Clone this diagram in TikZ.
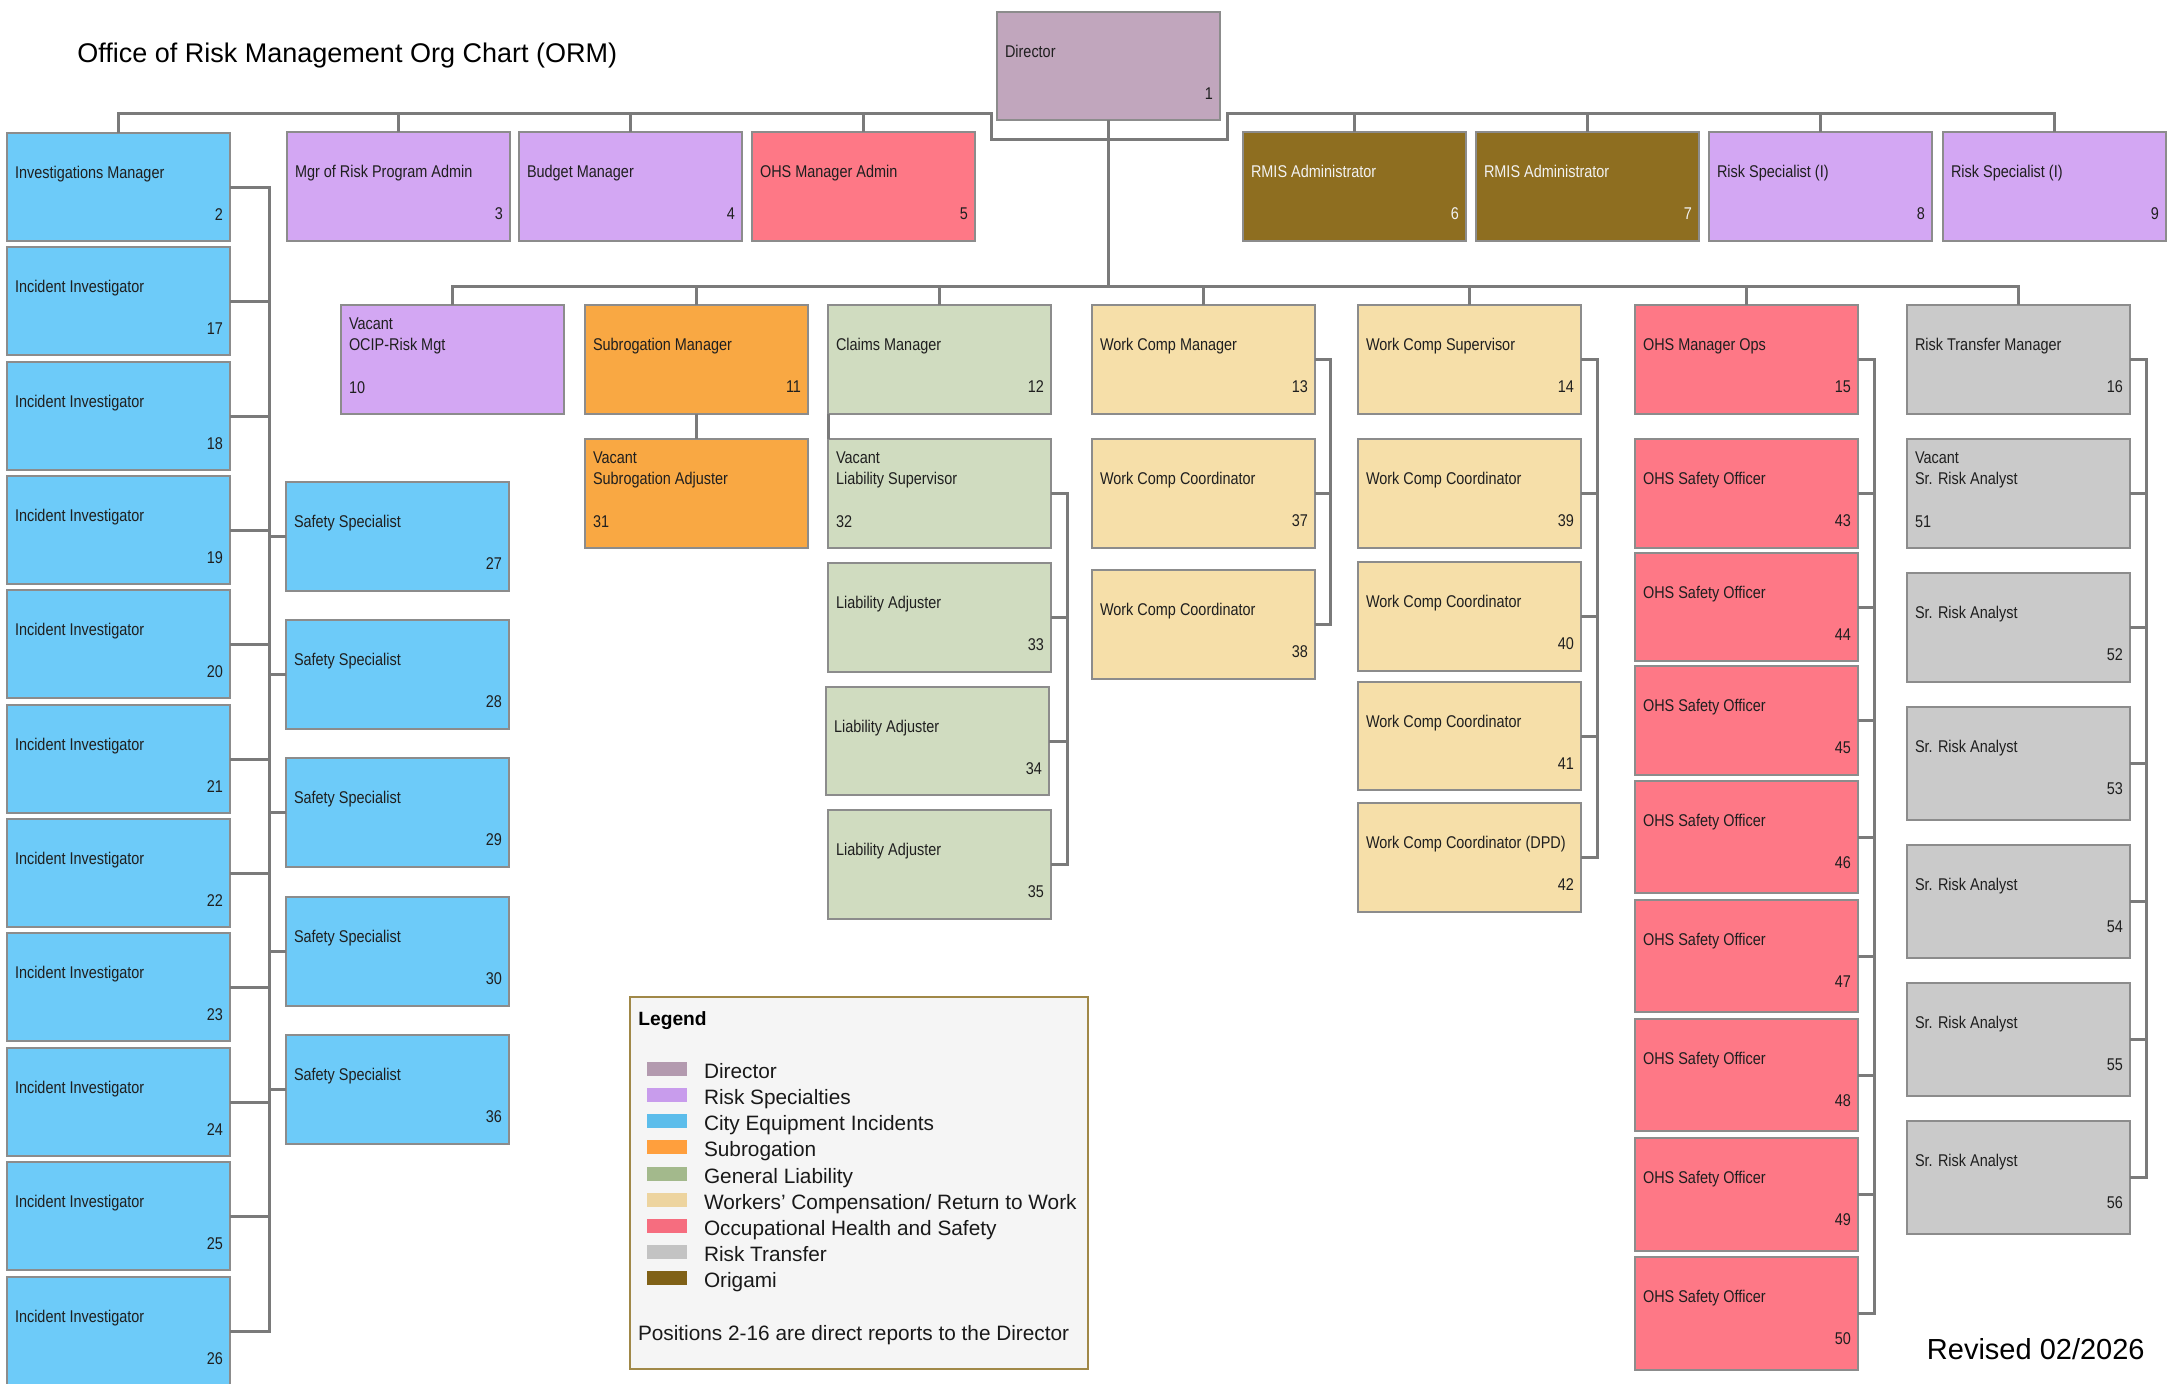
\documentclass[tikz,border=0pt]{standalone}
\usepackage{fontspec}
\setmainfont{Liberation Sans}
\newfontfamily\boxfont[FakeStretch=0.85]{Liberation Sans}
\usetikzlibrary{calc}
\definecolor{txt}{HTML}{1F1F1F}
\definecolor{wtxt}{HTML}{F2F2F2}
\definecolor{cdir}{HTML}{C1A6BD}
\definecolor{cpur}{HTML}{D3A7F3}
\definecolor{cblu}{HTML}{6DCBF9}
\definecolor{corg}{HTML}{F9A843}
\definecolor{cgrn}{HTML}{D0DCC0}
\definecolor{cwc}{HTML}{F6DFA9}
\definecolor{cohs}{HTML}{FE7886}
\definecolor{cgry}{HTML}{CACACA}
\definecolor{cori}{HTML}{8E6E20}
\definecolor{bord}{HTML}{8C8C8C}
\definecolor{lnc}{HTML}{7A7A7A}
\definecolor{ldir}{HTML}{B39AAF}
\definecolor{lpur}{HTML}{C89CEC}
\definecolor{lblu}{HTML}{5CBDEB}
\definecolor{lorg}{HTML}{FF9F3D}
\definecolor{lgrn}{HTML}{A3B98C}
\definecolor{lwc}{HTML}{EDD49F}
\definecolor{lohs}{HTML}{F66D7F}
\definecolor{lgry}{HTML}{C3C3C3}
\definecolor{lori}{HTML}{806117}
\definecolor{legbg}{HTML}{F5F5F5}
\definecolor{legbd}{HTML}{A08848}
% #1 text colour (opt), #2 name, #3 x, #4 y, #5 height, #6 fill, #7 title, #8 number
\newcommand\pb[8][txt]{%
  \node[pbox,fill=#6,minimum height=#5*0.5pt,anchor=north west] (#2) at (#3,#4) {};
  \node[btext,text=#1,anchor=base west] (#2t) at ([shift={(8,45)}]#2.north west) {#7};
  \node[btext,text=#1,anchor=base east] (#2n) at ([shift={(-7,87)}]#2.north east) {#8};
}
% vacant box: #1 name, #2 x, #3 y, #4 height, #5 fill, #6 title, #7 number
\newcommand\pv[7]{%
  \node[pbox,fill=#5,minimum height=#4*0.5pt,anchor=north west] (#1) at (#2,#3) {};
  \node[btext,anchor=base west] (#1v) at ([shift={(8,24)}]#1.north west) {Vacant};
  \node[btext,anchor=base west] (#1t) at ([shift={(8,45)}]#1.north west) {#6};
  \node[btext,anchor=base west] (#1n) at ([shift={(8,88)}]#1.north west) {#7};
}
\begin{document}
\begin{tikzpicture}[x=0.5pt,y=-0.5pt,
  pbox/.style={rectangle,draw=bord,line width=1pt,minimum width=111.5pt,inner sep=0pt,outer sep=0pt},
  btext/.style={font=\boxfont\fontsize{8.5pt}{10.5pt}\selectfont,inner sep=0pt,outer sep=0pt,text=txt},
  legtext/.style={font=\fontsize{10.4pt}{12pt}\selectfont,inner sep=0pt,outer sep=0pt,text=black!90},
  conn/.style={draw=lnc,line width=1.5pt}]
\fill[white] (0,0) rectangle (2177,1383);
\useasboundingbox (0,0) rectangle (2177,1383);

% title and footer
\node[font=\fontsize{13.5pt}{16pt}\selectfont,anchor=base west,inner sep=0pt] (title) at (77,62.5) {Office of Risk Management Org Chart (ORM)};
\node[font=\fontsize{14.5pt}{17pt}\selectfont,anchor=base east,inner sep=0pt] (rev) at (2145,1359) {Revised 02/2026};

% director
\pb{n1}{997}{12}{108}{cdir}{Director}{1}
% top row
\pb{n2}{7}{133}{108}{cblu}{Investigations Manager}{2}
\pb{n3}{287}{132}{109}{cpur}{Mgr of Risk Program Admin}{3}
\pb{n4}{519}{132}{109}{cpur}{Budget Manager}{4}
\pb{n5}{752}{132}{109}{cohs}{OHS Manager Admin}{5}
\pb[wtxt]{n6}{1243}{132}{109}{cori}{RMIS Administrator}{6}
\pb[wtxt]{n7}{1476}{132}{109}{cori}{RMIS Administrator}{7}
\pb{n8}{1709}{132}{109}{cpur}{Risk Specialist (I)}{8}
\pb{n9}{1943}{132}{109}{cpur}{Risk Specialist (I)}{9}
% second row
\pv{n10}{341}{305}{109}{cpur}{OCIP-Risk Mgt}{10}
\pb{n11}{585}{305}{109}{corg}{Subrogation Manager}{11}
\pb{n12}{828}{305}{109}{cgrn}{Claims Manager}{12}
\pb{n13}{1092}{305}{109}{cwc}{Work Comp Manager}{13}
\pb{n14}{1358}{305}{109}{cwc}{Work Comp Supervisor}{14}
\pb{n15}{1635}{305}{109}{cohs}{OHS Manager Ops}{15}
\pb{n16}{1907}{305}{109}{cgry}{Risk Transfer Manager}{16}
% investigators
\foreach \k/\yy in {17/247,18/362,19/476,20/590,21/705,22/819,23/933,24/1048,25/1162,26/1277}
  {\pb{n\k}{7}{\yy}{108}{cblu}{Incident Investigator}{\k}}
% safety specialists
\foreach \k/\yy in {27/482,28/620,29/758,30/897,36/1035}
  {\pb{n\k}{286}{\yy}{109}{cblu}{Safety Specialist}{\k}}
% subrogation
\pv{n31}{585}{439}{109}{corg}{Subrogation Adjuster}{31}
% liability
\pv{n32}{828}{439}{109}{cgrn}{Liability Supervisor}{32}
\pb{n33}{828}{563}{109}{cgrn}{Liability Adjuster}{33}
\pb{n34}{826}{687}{108}{cgrn}{Liability Adjuster}{34}
\pb{n35}{828}{810}{109}{cgrn}{Liability Adjuster}{35}
% work comp
\pb{n37}{1092}{439}{109}{cwc}{Work Comp Coordinator}{37}
\pb{n38}{1092}{570}{109}{cwc}{Work Comp Coordinator}{38}
\pb{n39}{1358}{439}{109}{cwc}{Work Comp Coordinator}{39}
\pb{n40}{1358}{562}{109}{cwc}{Work Comp Coordinator}{40}
\pb{n41}{1358}{682}{108}{cwc}{Work Comp Coordinator}{41}
\pb{n42}{1358}{803}{109}{cwc}{Work Comp Coordinator (DPD)}{42}
% OHS
\foreach \k/\yy/\hh in {43/439/109,44/553/108,45/666/109,46/781/112,47/900/112,48/1019/112,49/1138/113,50/1257/113}
  {\pb{n\k}{1635}{\yy}{\hh}{cohs}{OHS Safety Officer}{\k}}
% risk transfer
\pv{n51}{1907}{439}{109}{cgry}{Sr. Risk Analyst}{51}
\foreach \k/\yy/\hh in {52/573/109,53/707/113,54/845/113,55/983/113,56/1121/113}
  {\pb{n\k}{1907}{\yy}{\hh}{cgry}{Sr. Risk Analyst}{\k}}

% helper coordinates
\coordinate (bustop) at (0,113);
\coordinate (dl1) at (991,113);
\coordinate (dl2) at (991,139);
\coordinate (dr2) at (1227,139);
\coordinate (dr1) at (1227,113);
\coordinate (bus2) at (0,286);
\coordinate (vxI) at (269,0);
\coordinate (vxL) at (1067,0);
\coordinate (vxWa) at (1330,0);
\coordinate (vxWb) at (1597,0);
\coordinate (vxO) at (1874,0);
\coordinate (vxR) at (2146,0);

% top bus
\draw[conn] (n2.north) -- (n2.north |- bustop) -- (dl1) -- (dl2) -- (dr2) -- (dr1) -- (n9.north |- bustop) -- (n9.north);
\foreach \k in {3,4,5,6,7,8} \draw[conn] (n\k.north) -- (n\k.north |- bustop);
% director to second row
\draw[conn] (n1.south) -- (n1.south |- bus2);
\draw[conn] (n10.north) -- (n10.north |- bus2) -- (n16.north |- bus2) -- (n16.north);
\foreach \k in {11,...,15} \draw[conn] (n\k.north) -- (n\k.north |- bus2);
% investigations
\draw[conn] (n2.east) -- (n2.east -| vxI) -- (n26.east -| vxI) -- (n26.east);
\foreach \k in {17,...,25} \draw[conn] (n\k.east) -- (n\k.east -| vxI);
\foreach \k in {27,28,29,30,36} \draw[conn] (n\k.west) -- (n\k.west -| vxI);
% subrogation
\draw[conn] (n11.south) -- (n31.north);
% claims
\draw[conn] (n12.south west) -- (n32.north west);
\draw[conn] (n32.east) -- (n32.east -| vxL) -- (n35.east -| vxL) -- (n35.east);
\foreach \k in {33,34} \draw[conn] (n\k.east) -- (n\k.east -| vxL);
% work comp
\draw[conn] (n13.east) -- (n13.east -| vxWa) -- (n38.east -| vxWa) -- (n38.east);
\draw[conn] (n37.east) -- (n37.east -| vxWa);
\draw[conn] (n14.east) -- (n14.east -| vxWb) -- (n42.east -| vxWb) -- (n42.east);
\foreach \k in {39,40,41} \draw[conn] (n\k.east) -- (n\k.east -| vxWb);
% OHS
\draw[conn] (n15.east) -- (n15.east -| vxO) -- (n50.east -| vxO) -- (n50.east);
\foreach \k in {43,...,49} \draw[conn] (n\k.east) -- (n\k.east -| vxO);
% risk transfer
\draw[conn] (n16.east) -- (n16.east -| vxR) -- (n56.east -| vxR) -- (n56.east);
\foreach \k in {51,...,55} \draw[conn] (n\k.east) -- (n\k.east -| vxR);

% legend
\node[rectangle,draw=legbd,fill=legbg,line width=1pt,minimum width=229pt,minimum height=186pt,inner sep=0pt,outer sep=0pt,anchor=north west] (legend) at (630,997) {};
\node[font=\bfseries\fontsize{9.6pt}{12pt}\selectfont,anchor=base west,inner sep=0pt] (legtitle) at (638,1025) {Legend};
\foreach \c/\t [count=\i from 0] in {ldir/Director,lpur/Risk Specialties,lblu/City Equipment Incidents,lorg/Subrogation,lgrn/General Liability,lwc/{Workers’ Compensation/ Return to Work},lohs/Occupational Health and Safety,lgry/Risk Transfer,lori/Origami}{
  \node[rectangle,fill=\c,minimum width=20pt,minimum height=7pt,inner sep=0pt,anchor=west] (sw\i) at (647,1068.7+26.2*\i) {};
  \node[legtext,anchor=base west] (lt\i) at (704,1078.3+26.2*\i) {\t};
}
\node[legtext,anchor=base west] (legnote) at (638,1340) {Positions 2-16 are direct reports to the Director};
\end{tikzpicture}
\end{document}
